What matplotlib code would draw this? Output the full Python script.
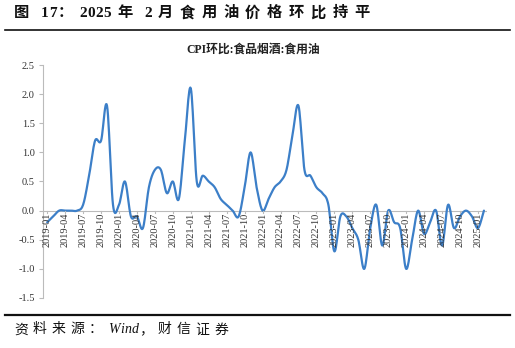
import numpy as np
import matplotlib
matplotlib.use("Agg")
import matplotlib.pyplot as plt
from matplotlib.lines import Line2D

months = ["2019-01","2019-02","2019-03","2019-04","2019-05","2019-06","2019-07","2019-08","2019-09","2019-10","2019-11","2019-12",
          "2020-01","2020-02","2020-03","2020-04","2020-05","2020-06","2020-07","2020-08","2020-09","2020-10","2020-11","2020-12",
          "2021-01","2021-02","2021-03","2021-04","2021-05","2021-06","2021-07","2021-08","2021-09","2021-10","2021-11","2021-12",
          "2022-01","2022-02","2022-03","2022-04","2022-05","2022-06","2022-07","2022-08","2022-09","2022-10","2022-11","2022-12",
          "2023-01","2023-02","2023-03","2023-04","2023-05","2023-06","2023-07","2023-08","2023-09","2023-10","2023-11","2023-12",
          "2024-01","2024-02","2024-03","2024-04","2024-05","2024-06","2024-07","2024-08","2024-09","2024-10","2024-11","2024-12",
          "2025-01","2025-02"]
values = [-0.2, -0.1, 0.0, 0.0, 0.0, 0.0, 0.1, 0.6, 1.2, 1.2, 1.8, 0.1,
          0.1, 0.5, -0.1, -0.1, -0.3, 0.4, 0.7, 0.7, 0.3, 0.5, 0.2, 1.2,
          2.1, 0.5, 0.6, 0.5, 0.4, 0.2, 0.1, 0.0, -0.1, 0.4, 1.0, 0.4,
          0.0, 0.2, 0.4, 0.5, 0.7, 1.3, 1.8, 0.7, 0.6, 0.4, 0.3, 0.1,
          -0.7, -0.1, -0.1, -0.3, -0.5, -1.0, -0.3, 0.1, -0.6, 0.0, -0.2, -0.3,
          -1.0, -0.5, 0.0, -0.4, -0.2, 0.0, -0.6, 0.1, -0.3, -0.1, 0.0, -0.1,
          -0.3, 0.0]
yticks = [-1.5, -1.0, -0.5, 0.0, 0.5, 1.0, 1.5, 2.0, 2.5]
fig_title = "图 17：2025 年 2 月食用油价格环比持平"
chart_title = "CPI环比:食品烟酒:食用油"
source = "资料来源：Wind，财信证券"

SERIF = ["Liberation Serif", "Noto Sans CJK SC"]

def catmull(x, y, n=12):
    x = np.asarray(x, float); y = np.asarray(y, float)
    px = np.concatenate([[2*x[0]-x[1]], x, [2*x[-1]-x[-2]]])
    py = np.concatenate([[2*y[0]-y[1]], y, [2*y[-1]-y[-2]]])
    xs, ys = [], []
    t = np.linspace(0, 1, n, endpoint=False)
    for i in range(1, len(px)-2):
        f = lambda a0, a1, a2, a3: 0.5*((2*a1) + (-a0+a2)*t + (2*a0-5*a1+4*a2-a3)*t**2 + (-a0+3*a1-3*a2+a3)*t**3)
        xs.append(f(px[i-1], px[i], px[i+1], px[i+2])); ys.append(f(py[i-1], py[i], py[i+1], py[i+2]))
    xs.append([x[-1]]); ys.append([y[-1]])
    return np.concatenate(xs), np.concatenate(ys)

fig = plt.figure(figsize=(5.15, 3.48), dpi=100)
ax = fig.add_axes([0.0835, 0.1437, 0.862, 0.6695])

xi = np.arange(len(values))
sx, sy = catmull(xi, values)
ax.plot(sx, sy, color="#3C7FC8", lw=1.6, solid_capstyle="round")

ax.set_ylim(-1.5, 2.5)
ax.set_xlim(-0.7, 73.5)
ax.set_yticks(yticks)
ax.set_yticklabels([f"{v:.1f}" for v in yticks], fontfamily=SERIF, fontsize=7.5, color="#333333")
ax.tick_params(axis="y", length=3, color="#BBBBBB", width=0.8, pad=3)

for s in ["top", "right", "bottom"]:
    ax.spines[s].set_visible(False)
ax.spines["left"].set_color("#BBBBBB")
ax.spines["left"].set_linewidth(0.8)
ax.axhline(0, color="#BBBBBB", lw=0.8, zorder=0)

ax.set_xticks([])
for i in range(0, len(months), 3):
    ax.text(i, -0.04, months[i], rotation=90, ha="center", va="top",
            fontfamily=SERIF, fontsize=7.5, color="#333333")
    ax.plot([i, i], [0, -0.04], color="#BBBBBB", lw=0.8)

fig.text(0.492, 0.857, chart_title, ha="center", va="center",
         fontfamily=SERIF, fontsize=8.5, fontweight="bold", color="#222222")

renderer = fig.canvas.get_renderer()
W = fig.bbox.width

def spaced_text(s, x0px, ycenter, gap_px, **kw):
    x = x0px
    for ch in s:
        if ch == " ":
            x += gap_px * 0.8
            continue
        t = fig.text(x / W, ycenter, ch, ha="left", va="center", **kw)
        w = t.get_window_extent(renderer=renderer).width
        x += w + (gap_px if ord(ch) > 0x2E80 else 0.5)

spaced_text(fig_title, 14, 0.962, 6.6, fontfamily=SERIF, fontsize=11,
            fontweight="bold", color="#111111")
fig.add_artist(Line2D([0.01, 0.99], [0.914, 0.914], color="#111111", lw=1.2))
fig.add_artist(Line2D([0.01, 0.99], [0.095, 0.095], color="#111111", lw=1.6))
spaced_text(source, 14, 0.052, 4.9, fontfamily=SERIF, fontsize=10,
            style="italic", color="#111111")

fig.savefig("out.png", dpi=100)
